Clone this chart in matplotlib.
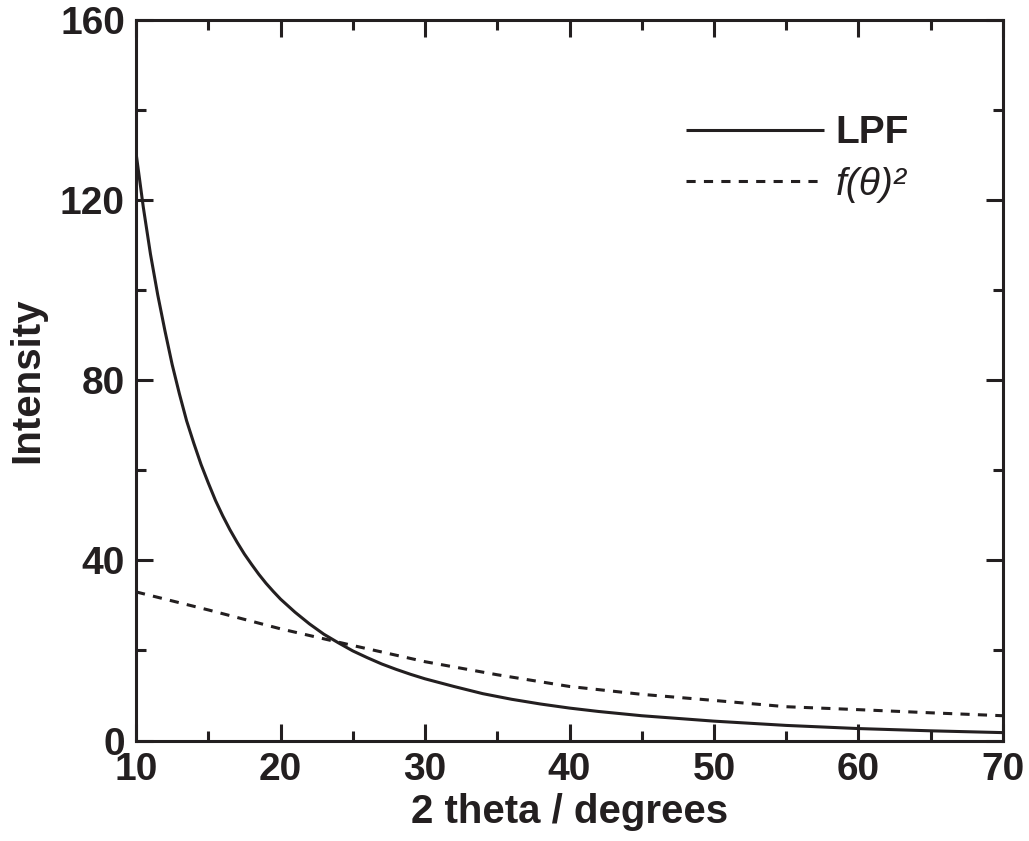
import matplotlib
matplotlib.use("Agg")
import matplotlib.pyplot as plt
from matplotlib.ticker import MultipleLocator

# ── Data ─────────────────────────────────────────────────────────────────────
# LPF curve (solid)
LPF_X = [10, 10.5, 11, 11.5, 12, 12.5, 13, 13.5, 14, 14.5, 15, 15.5, 16,
         16.5, 17, 17.5, 18, 18.5, 19, 19.5, 20, 21, 22, 23, 24, 25, 26, 27,
         28, 29, 30, 32, 34, 36, 38, 40, 42, 45, 50, 55, 60, 65, 70]
LPF_Y = [130.5, 118.5, 108, 99, 91, 83.5, 77, 71, 66, 61.3, 57.2, 53.3, 49.9,
         46.8, 44, 41.4, 39.1, 36.9, 34.9, 33.1, 31.4, 28.5, 25.9, 23.6, 21.7,
         19.9, 18.4, 17.0, 15.8, 14.7, 13.7, 12.0, 10.4, 9.15, 8.1, 7.2, 6.45,
         5.5, 4.3, 3.35, 2.65, 2.15, 1.75]

# f(theta)^2 curve (dashed)
F2_X = [10, 15, 20, 25, 30, 35, 40, 45, 50, 55, 60, 65, 70]
F2_Y = [33.0, 29.0, 24.8, 21.1, 17.5, 14.6, 12.0, 10.25, 8.9, 7.5, 6.85, 6.15, 5.5]

INK = "#231f20"

plt.rcParams["font.family"] = ["Liberation Sans", "DejaVu Sans"]
plt.rcParams["font.weight"] = "bold"

fig = plt.figure(figsize=(10.29, 8.41), dpi=100)
ax = fig.add_axes([0.1322, 0.1195, 0.9747 - 0.1322, 0.9762 - 0.1195])

ax.plot(LPF_X, LPF_Y, color=INK, lw=2.2, label="LPF", solid_capstyle="butt")
ax.plot(F2_X, F2_Y, color=INK, lw=2.2, dashes=(3, 2.7), label="f(θ)²")

ax.set_xlim(10, 70)
ax.set_ylim(0, 160)
ax.xaxis.set_major_locator(MultipleLocator(10))
ax.xaxis.set_minor_locator(MultipleLocator(5))
ax.yaxis.set_major_locator(MultipleLocator(40))
ax.yaxis.set_minor_locator(MultipleLocator(20))

for s in ax.spines.values():
    s.set_linewidth(2.2)
    s.set_color(INK)

ax.tick_params(which="both", direction="in", top=True, right=True,
               width=2.2, color=INK, labelcolor=INK, labelsize=28, pad=8)
ax.tick_params(which="major", length=12)
ax.tick_params(which="minor", length=7)

ax.set_xlabel("2 theta / degrees", fontsize=29, fontweight="bold",
              color=INK, labelpad=4)
ax.set_ylabel("Intensity", fontsize=29, fontweight="bold",
              color=INK, labelpad=10)

leg = ax.legend(loc="upper left", bbox_to_anchor=(0.634, 0.868),
                frameon=False, fontsize=28, handlelength=3.55,
                handletextpad=0.3, borderpad=0, borderaxespad=0,
                labelspacing=0.40)
texts = leg.get_texts()
texts[0].set_fontweight("bold")
texts[1].set_fontweight("normal")
texts[1].set_fontstyle("italic")
for t in texts:
    t.set_color(INK)

fig.savefig("out.png", dpi=100)
